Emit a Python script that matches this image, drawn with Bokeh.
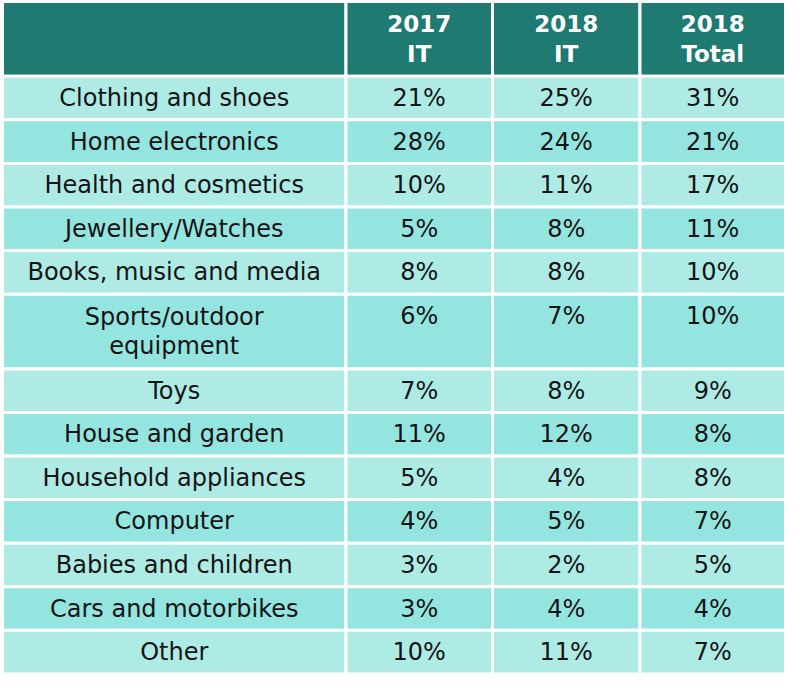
from bokeh.plotting import figure
from bokeh.models import Range1d
from bokeh.core.properties import value
from bokeh.embed import file_html
from bokeh.resources import INLINE

# ---- data ----
categories = ["Clothing and shoes", "Home electronics", "Health and cosmetics",
              "Jewellery/Watches", "Books, music and media", "Sports/outdoor\nequipment",
              "Toys", "House and garden", "Household appliances", "Computer",
              "Babies and children", "Cars and motorbikes", "Other"]
it_2017 = [21, 28, 10, 5, 8, 6, 7, 11, 5, 4, 3, 3, 10]
it_2018 = [25, 24, 11, 8, 8, 7, 8, 12, 4, 5, 2, 4, 11]
total_2018 = [31, 21, 17, 11, 10, 10, 9, 8, 8, 7, 5, 4, 7]
column_headers = ["", "2017\nIT", "2018\nIT", "2018\nTotal"]

# ---- layout (screen pixel coordinates of the reference) ----
col_edges = [2, 349, 497, 646, 793]
header_top, header_bottom = 4, 79
single_h, double_h = 43.7, 75.0
FONT = "DejaVu Sans"
FS = "24px"
HFS = "23px"
line_gap = 30
header_color = "#1f7a72"
row_colors = ["#aeebe5", "#94e5df"]
text_color = "#141414"

p = figure(width=784, height=674, x_range=Range1d(0, 792), y_range=Range1d(679, 3),
           output_backend="svg", toolbar_location=None, min_border=0)
p.axis.visible = False
p.grid.visible = False
p.outline_line_color = None
p.background_fill_color = "white"
p.border_fill_color = "white"

# row geometry
tops, bottoms, firsts = [], [], []
y = header_bottom
for c in categories:
    h = double_h if "\n" in c else single_h
    tops.append(y)
    bottoms.append(y + h)
    firsts.append(y + single_h / 2)
    y += h

# cells
cl, cr, ct, cb, cf = [], [], [], [], []
for j in range(4):
    cl.append(col_edges[j]); cr.append(col_edges[j + 1])
    ct.append(header_top); cb.append(header_bottom); cf.append(header_color)
for i in range(len(categories)):
    for j in range(4):
        cl.append(col_edges[j]); cr.append(col_edges[j + 1])
        ct.append(tops[i]); cb.append(bottoms[i]); cf.append(row_colors[i % 2])
p.quad(left=cl, right=cr, top=ct, bottom=cb, fill_color=cf,
       line_color="white", line_width=3)

hx = [(col_edges[j] + col_edges[j + 1]) / 2 for j in range(4)]


def lines_at(texts, xs, centers, gap):
    ox, oy, ot = [], [], []
    for t, x, c in zip(texts, xs, centers):
        parts = t.split("\n")
        n = len(parts)
        for k, part in enumerate(parts):
            ox.append(x)
            oy.append(c + (k - (n - 1) / 2) * gap)
            ot.append(part)
    return ox, oy, ot


# header texts
hxs, hys, hts = lines_at(column_headers, hx, [(header_top + header_bottom) / 2] * 4, 31)
p.text(x=hxs, y=hys, text=hts, text_font=value(FONT), text_font_size=HFS,
       text_font_style="bold", text_color="white", text_align="center",
       text_baseline="middle")

# category labels
lxs, lys, lts = lines_at(categories, [hx[0]] * len(categories),
                         [(t + b) / 2 for t, b in zip(tops, bottoms)], line_gap)
p.text(x=lxs, y=lys, text=lts, text_font=value(FONT), text_font_size=FS,
       text_color=text_color, text_align="center", text_baseline="middle")

# values
for j, series in enumerate([it_2017, it_2018, total_2018], start=1):
    p.text(x=[hx[j]] * len(series), y=firsts, text=[f"{v}%" for v in series],
           text_font=value(FONT), text_font_size=FS, text_color=text_color,
           text_align="center", text_baseline="middle")

open("out.html", "w").write(file_html(p, INLINE))
